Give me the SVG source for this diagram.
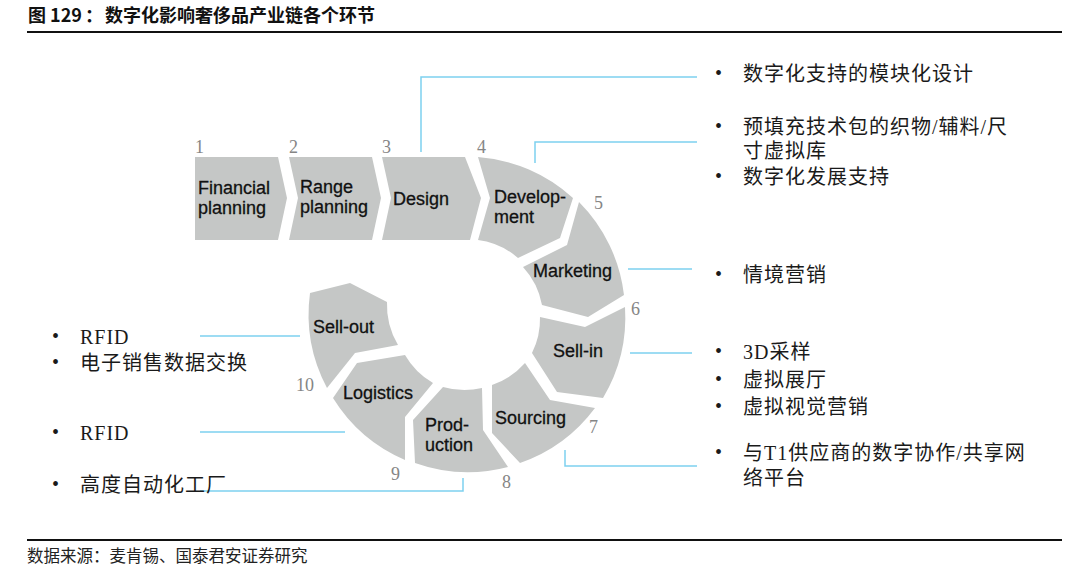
<svg xmlns="http://www.w3.org/2000/svg" width="1080" height="584" viewBox="0 0 1080 584">
<style>
.seg{fill:#c5c7c6;stroke:none}
.lbl{font-family:"Liberation Sans",Arial,sans-serif;font-size:18px;fill:#111;stroke:#111;stroke-width:0.3px}
.num{font-family:"Liberation Serif","Times New Roman",serif;font-size:18px;fill:#858585}
.ann{font-family:"Liberation Serif","Noto Sans CJK SC",serif;font-size:20px;fill:#1a1a1a;letter-spacing:1px}
.bul{font-family:"Liberation Serif",serif;font-size:20px;fill:#1a1a1a}
.con{fill:none;stroke:#7dd1ef;stroke-width:1.5}
.rule{stroke:#111;stroke-width:2}
</style>
<rect width="1080" height="584" fill="#fff"/>
<text x="28" y="22" font-family="'Noto Sans CJK SC',sans-serif" font-weight="bold" font-size="18" fill="#111">图 129<tspan dx="3">：</tspan><tspan dx="2">数字化影响奢侈品产业链各个环节</tspan></text>
<line class="rule" x1="27" y1="32" x2="1062" y2="32"/>
<line class="rule" x1="27" y1="540" x2="1062" y2="540"/>
<text x="27" y="562" font-family="'Noto Sans CJK SC',sans-serif" font-size="16.5" fill="#222">数据来源：麦肯锡、国泰君安证券研究</text>

<g id="connectors">
<polyline class="con" points="421,152 421,77 697,77"/>
<polyline class="con" points="535,163 535,142 697,142"/>
<line class="con" x1="628" y1="269" x2="692" y2="269"/>
<line class="con" x1="630" y1="353" x2="692" y2="353"/>
<polyline class="con" points="565,450 565,466 697,466"/>
<polyline class="con" points="463,478 463,491 200,491"/>
<line class="con" x1="200" y1="432" x2="345" y2="432"/>
<line class="con" x1="200" y1="336" x2="300" y2="336"/>
</g>

<g id="n1">
<path class="seg" d="M195,157 L278,157 L287,198 L278,240 L195,240 Z"/>
<text class="num" x="195" y="153">1</text>
<text class="lbl" x="198" y="194">Financial</text>
<text class="lbl" x="198" y="214">planning</text>
</g>
<g id="n2">
<path class="seg" d="M289,157 L372,157 L381,198 L372,240 L289,240 L298,198 Z"/>
<text class="num" x="289" y="153">2</text>
<text class="lbl" x="300" y="193">Range</text>
<text class="lbl" x="300" y="213">planning</text>
</g>
<g id="n3">
<path class="seg" d="M382,157 L465,157 L481,198 L470,240 L382,240 L391,198 Z"/>
<text class="num" x="382" y="153">3</text>
<text class="lbl" x="393" y="205">Design</text>
</g>
<g id="n4">
<path class="seg" d="M478,157 A158,158 0 0 1 573,198 L560,238 L518,258 A76,76 0 0 0 478,240 L490,198 Z"/>
<text class="num" x="477" y="153">4</text>
<text class="lbl" x="494" y="203">Develop-</text>
<text class="lbl" x="494" y="223">ment</text>
</g>
<g id="n5">
<path class="seg" d="M579,202 A158,158 0 0 1 624,295 L588,317 L542,305 A76,76 0 0 0 523,267 L567,245 Z"/>
<text class="num" x="594" y="209">5</text>
<text class="lbl" x="533" y="277">Marketing</text>
</g>
<g id="n6">
<path class="seg" d="M625,307 A158,158 0 0 1 603,398 L557,392 L532,353 A76,76 0 0 0 540,317 L585,327 Z"/>
<text class="num" x="631" y="315">6</text>
<text class="lbl" x="553" y="357">Sell-in</text>
</g>
<g id="n7">
<path class="seg" d="M595,408 A158,158 0 0 1 520,463 L492,433 L492,385 A76,76 0 0 0 525,363 L550,400 Z"/>
<text class="num" x="589" y="433">7</text>
<text class="lbl" x="495" y="424">Sourcing</text>
</g>
<g id="n8">
<path class="seg" d="M508,467 A158,158 0 0 1 415,463 L413,420 L443,387 A76,76 0 0 0 482,388 L483,430 Z"/>
<text class="num" x="502" y="488">8</text>
<text class="lbl" x="425" y="431">Prod-</text>
<text class="lbl" x="425" y="451">uction</text>
</g>
<g id="n9">
<path class="seg" d="M405,460 A158,158 0 0 1 333,398 L357,363 L405,355 A76,76 0 0 0 433,383 L405,417 Z"/>
<text class="num" x="391" y="480">9</text>
<text class="lbl" x="343" y="399">Logistics</text>
</g>
<g id="n10">
<path class="seg" d="M327,388 A158,158 0 0 1 310,293 L350,283 L387,302 A78,78 0 0 0 398,345 L355,353 Z"/>
<text class="num" x="296" y="391">10</text>
<text class="lbl" x="313" y="333">Sell-out</text>
</g>

<g id="notes-right">
<text class="bul" x="715" y="80">•</text>
<text class="ann" x="743" y="81">数字化支持的模块化设计</text>
<text class="bul" x="715" y="133">•</text>
<text class="ann" x="743" y="134">预填充技术包的织物/辅料/尺</text>
<text class="ann" x="743" y="158">寸虚拟库</text>
<text class="bul" x="715" y="183">•</text>
<text class="ann" x="743" y="184">数字化发展支持</text>
<text class="bul" x="715" y="281">•</text>
<text class="ann" x="743" y="282">情境营销</text>
<text class="bul" x="715" y="358">•</text>
<text class="ann" x="743" y="359">3D采样</text>
<text class="bul" x="715" y="386">•</text>
<text class="ann" x="743" y="387">虚拟展厅</text>
<text class="bul" x="715" y="413">•</text>
<text class="ann" x="743" y="414">虚拟视觉营销</text>
<text class="bul" x="715" y="459">•</text>
<text class="ann" x="743" y="460">与T1供应商的数字协作/共享网</text>
<text class="ann" x="743" y="485">络平台</text>
</g>
<g id="notes-left">
<text class="bul" x="52" y="343">•</text>
<text class="ann" x="80" y="344">RFID</text>
<text class="bul" x="52" y="369">•</text>
<text class="ann" x="80" y="370">电子销售数据交换</text>
<text class="bul" x="52" y="439">•</text>
<text class="ann" x="80" y="440">RFID</text>
<text class="bul" x="52" y="491">•</text>
<text class="ann" x="80" y="492">高度自动化工厂</text>
</g>
</svg>
